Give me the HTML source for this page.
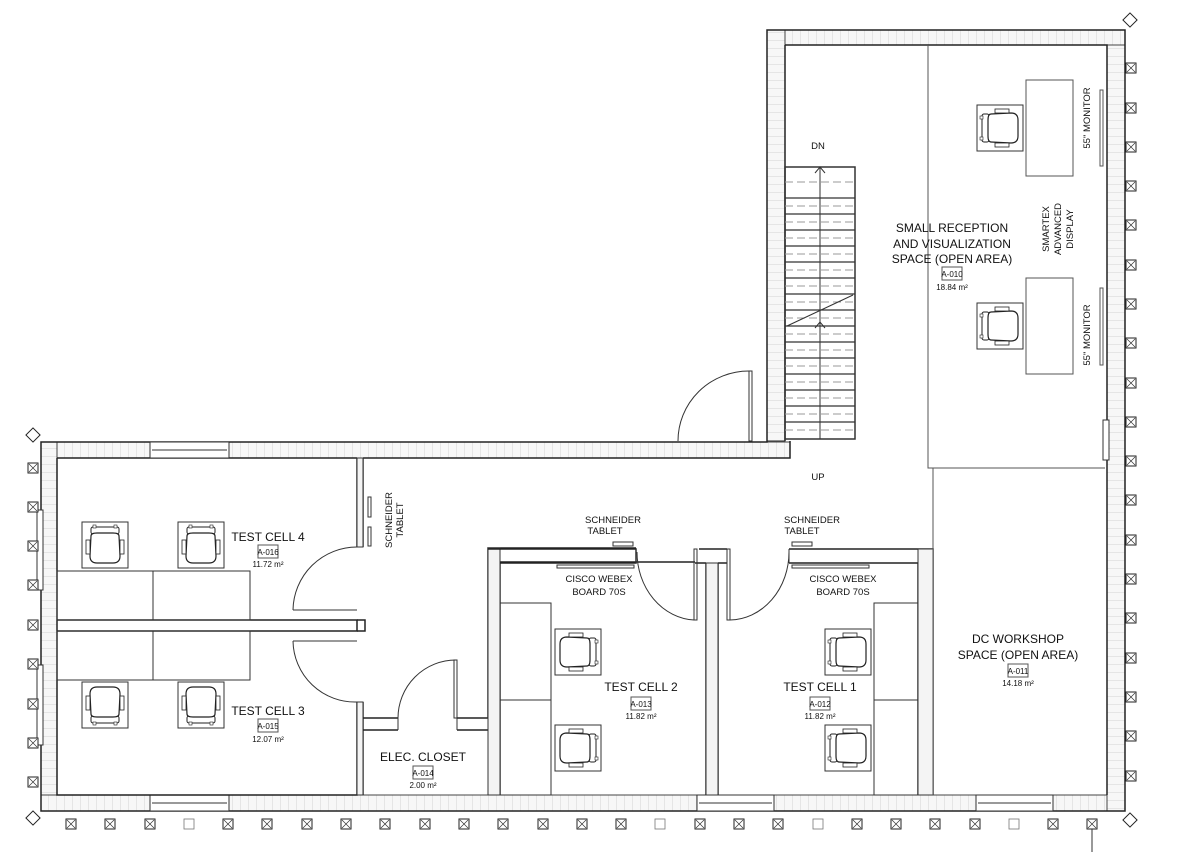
<!DOCTYPE html>
<html><head><meta charset="utf-8"><style>
html,body{margin:0;padding:0;background:#fff;}
svg{display:block;}
text{font-family:"Liberation Sans",Arial,sans-serif;fill:#111;}
</style></head><body>
<svg width="1201" height="852" viewBox="0 0 1201 852" xmlns="http://www.w3.org/2000/svg">
<defs>
<pattern id="hx" width="8" height="8" patternUnits="userSpaceOnUse"><rect width="8" height="8" fill="#f7f7f7"/><path d="M0 0V8" stroke="#c4c4c4" stroke-width="0.7"/></pattern>
<pattern id="hy" width="8" height="8" patternUnits="userSpaceOnUse"><rect width="8" height="8" fill="#f7f7f7"/><path d="M0 0H8" stroke="#c4c4c4" stroke-width="0.7"/></pattern>
<g id="chair">
<rect x="0" y="0" width="46" height="46" fill="none" stroke="#333" stroke-width="1"/>
<rect x="9" y="5" width="28" height="7" rx="2" fill="#fff" stroke="#222" stroke-width="1"/>
<path d="M9 14 Q9 11 15 11 H31 Q37 11 37 14 L38 34 Q38 41 31 41 H15 Q8 41 8 34 Z" fill="#fff" stroke="#222" stroke-width="1.2"/>
<rect x="4" y="18" width="4" height="14" fill="#fff" stroke="#222" stroke-width="0.8"/>
<rect x="38" y="18" width="4" height="14" fill="#fff" stroke="#222" stroke-width="0.8"/>
<rect x="11" y="3" width="3" height="3" fill="#fff" stroke="#222" stroke-width="0.6"/>
<rect x="32" y="3" width="3" height="3" fill="#fff" stroke="#222" stroke-width="0.6"/>
</g>
<g id="tx"><rect x="-5" y="-5" width="10" height="10" fill="#fff" stroke="#222" stroke-width="1"/><path d="M-4 -4L4 4M4 -4L-4 4" stroke="#333" stroke-width="0.7"/></g>
<g id="tb"><rect x="-5" y="-5" width="10" height="10" fill="#fff" stroke="#777" stroke-width="0.8"/></g>
</defs>

<g stroke="#444" stroke-width="1">
<rect x="41" y="442" width="749" height="16" fill="url(#hx)"/>
<rect x="41" y="442" width="16" height="369" fill="url(#hy)"/>
<rect x="41" y="795" width="1084" height="16" fill="url(#hx)"/>
<rect x="1107" y="30" width="18" height="781" fill="url(#hy)"/>
<rect x="767" y="30" width="358" height="15" fill="url(#hx)"/>
<rect x="767" y="30" width="18" height="411" fill="url(#hy)"/>
</g>
<g fill="none" stroke="#222" stroke-width="1.5">
<path d="M41 442H767V30H1125V811H41Z"/>
<path d="M57 458H357M363 458H790V441"/>
<path d="M785 45H1107V795M785 45V441"/>
</g>
<g fill="#fff" stroke="#333" stroke-width="1">
<rect x="150" y="442" width="79" height="16"/><line x1="152" y1="450" x2="227" y2="450"/>
<rect x="150" y="795" width="79" height="16"/><line x1="152" y1="803" x2="227" y2="803"/>
<rect x="697" y="795" width="77" height="16"/><line x1="699" y1="803" x2="772" y2="803"/>
<rect x="976" y="795" width="77" height="16"/><line x1="978" y1="803" x2="1051" y2="803"/>
<rect x="37" y="510" width="6" height="80"/><rect x="37" y="665" width="6" height="80"/>
<rect x="1103" y="420" width="6" height="40"/>
</g>

<g fill="none" stroke="#222" stroke-width="1.5">
<path d="M57 458V795H357V702M357 547V458"/>
<path d="M363 458V547M363 702V795"/>
<path d="M57 620H357V631H57"/>
<path d="M357 620h8v11h-8"/>
</g>
<g fill="none" stroke="#333" stroke-width="1">
<rect x="357" y="458" width="6" height="89" fill="#f4f4f4"/>
<rect x="357" y="702" width="6" height="93" fill="#f4f4f4"/>
<rect x="368" y="497" width="3" height="20"/><rect x="368" y="527" width="3" height="19"/>
<path d="M293 610H357M293 610A64 64 0 0 1 357 547"/>
<path d="M293 641H357M293 641A62 62 0 0 0 357 702"/>
<rect x="57" y="571" width="193" height="49"/><line x1="153" y1="571" x2="153" y2="620"/>
<rect x="57" y="631" width="193" height="49"/><line x1="153" y1="631" x2="153" y2="680"/>
</g>
<use href="#chair" x="82" y="522"/>
<use href="#chair" x="178" y="522"/>
<use href="#chair" transform="translate(128,728) rotate(180)"/>
<use href="#chair" transform="translate(224,728) rotate(180)"/>

<g fill="none" stroke="#222" stroke-width="1.5">
<path d="M363 718H398M457 718H488M363 730H398M457 730H500"/>
<path d="M488 718V548H636"/>
<path d="M500 795V562H695"/>
</g>
<g fill="none" stroke="#333" stroke-width="1">
<path d="M398 718V730M457 718V730"/>
<path d="M454 660V718H457V660Z"/>
<path d="M398 718A58 58 0 0 1 456 660"/>
<rect x="488" y="548" width="12" height="247" fill="#f4f4f4"/>
</g>
<g fill="none" stroke="#222" stroke-width="1.5">
<path d="M488 549H636V563H500"/>
<path d="M706 563V795M718 563V795"/>
<path d="M699 549H727"/>
<path d="M789 549H933V795M789 563H918V795"/>
<path d="M718 563H727M695 563H706"/>
</g>
<g fill="none" stroke="#333" stroke-width="1">
<rect x="706" y="563" width="12" height="232" fill="#f4f4f4"/>
<path d="M694 549V620H697V549Z"/>
<path d="M727 549V620H730V549Z"/>
<path d="M636 549V563M789 549V563"/>
<path d="M637 552A60 68 0 0 0 694 620"/>
<path d="M789 552A60 68 0 0 1 730 620"/>
<rect x="918" y="549" width="15" height="246" fill="#f4f4f4"/>
<rect x="613" y="542" width="20" height="4"/><rect x="792" y="542" width="20" height="4"/>
<rect x="557" y="565" width="77" height="3"/><rect x="792" y="565" width="77" height="3"/>
<rect x="500" y="603" width="51" height="192"/><line x1="500" y1="700" x2="551" y2="700"/>
<rect x="874" y="603" width="44" height="192"/><line x1="874" y1="700" x2="918" y2="700"/>
</g>
<use href="#chair" transform="translate(601,629) rotate(90)"/>
<use href="#chair" transform="translate(601,725) rotate(90)"/>
<use href="#chair" transform="translate(825,675) rotate(-90)"/>
<use href="#chair" transform="translate(825,771) rotate(-90)"/>

<g fill="none" stroke="#333" stroke-width="1">
<path d="M749 371V441H752V371Z"/>
<path d="M678 441A71 70 0 0 1 749 371"/>
</g>

<g fill="none" stroke="#333" stroke-width="1">
<rect x="785" y="167" width="70" height="272" stroke-width="1.5"/>
<path d="M785 198H855M785 214H855M785 230H855M785 246H855M785 262H855M785 278H855M785 294H855M785 310H855M785 326H855M785 342H855M785 358H855M785 374H855M785 390H855M785 406H855M785 422H855" stroke-width="1.2"/>
<path d="M785 182H855M785 206H855M785 222H855M785 238H855M785 254H855M785 270H855M785 286H855M785 302H855M785 318H855M785 334H855M785 350H855M785 366H855M785 382H855M785 398H855M785 414H855M785 430H855" stroke="#999" stroke-dasharray="8,4"/>
<path d="M820 167V439"/>
<path d="M815 173L820 167L825 173M815 328L820 322L825 328"/>
<path d="M787 326L853 295"/>
</g>

<g fill="none" stroke="#555" stroke-width="1">
<path d="M928 45V468H1105"/>
<path d="M933 468V795"/>
<rect x="1026" y="80" width="47" height="96"/>
<rect x="1026" y="278" width="47" height="96"/>
<rect x="1100" y="90" width="3" height="76"/>
<rect x="1100" y="288" width="3" height="77"/>
</g>
<use href="#chair" transform="translate(977,151) rotate(-90)"/>
<use href="#chair" transform="translate(977,349) rotate(-90)"/>

<g>
<use href="#tx" x="33" y="468"/><use href="#tx" x="33" y="507"/><use href="#tx" x="33" y="546"/><use href="#tx" x="33" y="585"/><use href="#tx" x="33" y="625"/><use href="#tx" x="33" y="664"/><use href="#tx" x="33" y="704"/><use href="#tx" x="33" y="743"/><use href="#tx" x="33" y="782"/>
<use href="#tx" x="71" y="824"/><use href="#tx" x="110" y="824"/><use href="#tx" x="150" y="824"/><use href="#tb" x="189" y="824"/><use href="#tx" x="228" y="824"/><use href="#tx" x="267" y="824"/><use href="#tx" x="307" y="824"/><use href="#tx" x="346" y="824"/><use href="#tx" x="385" y="824"/><use href="#tx" x="425" y="824"/><use href="#tx" x="464" y="824"/><use href="#tx" x="503" y="824"/><use href="#tx" x="543" y="824"/><use href="#tx" x="582" y="824"/><use href="#tx" x="621" y="824"/><use href="#tb" x="660" y="824"/><use href="#tx" x="700" y="824"/><use href="#tx" x="739" y="824"/><use href="#tx" x="778" y="824"/><use href="#tb" x="818" y="824"/><use href="#tx" x="857" y="824"/><use href="#tx" x="896" y="824"/><use href="#tx" x="935" y="824"/><use href="#tx" x="975" y="824"/><use href="#tb" x="1014" y="824"/><use href="#tx" x="1053" y="824"/><use href="#tx" x="1092" y="824"/>
<use href="#tx" x="1131" y="68"/><use href="#tx" x="1131" y="108"/><use href="#tx" x="1131" y="147"/><use href="#tx" x="1131" y="186"/><use href="#tx" x="1131" y="225"/><use href="#tx" x="1131" y="265"/><use href="#tx" x="1131" y="304"/><use href="#tx" x="1131" y="343"/><use href="#tx" x="1131" y="383"/><use href="#tx" x="1131" y="422"/><use href="#tx" x="1131" y="461"/><use href="#tx" x="1131" y="500"/><use href="#tx" x="1131" y="540"/><use href="#tx" x="1131" y="579"/><use href="#tx" x="1131" y="618"/><use href="#tx" x="1131" y="658"/><use href="#tx" x="1131" y="697"/><use href="#tx" x="1131" y="736"/><use href="#tx" x="1131" y="776"/>
<rect x="28" y="430" width="10" height="10" transform="rotate(45 33 435)" fill="#fff" stroke="#222"/>
<rect x="28" y="813" width="10" height="10" transform="rotate(45 33 818)" fill="#fff" stroke="#222"/>
<rect x="1125" y="15" width="10" height="10" transform="rotate(45 1130 20)" fill="#fff" stroke="#222"/>
<rect x="1125" y="815" width="10" height="10" transform="rotate(45 1130 820)" fill="#fff" stroke="#222"/>
<line x1="1092" y1="829" x2="1092" y2="852" stroke="#333"/>
</g>

<g font-size="12" text-anchor="middle">
<text x="268" y="541">TEST CELL 4</text>
<text x="268" y="715">TEST CELL 3</text>
<text x="641" y="691">TEST CELL 2</text>
<text x="820" y="691">TEST CELL 1</text>
<text x="423" y="761">ELEC. CLOSET</text>
<text x="952" y="232">SMALL RECEPTION</text>
<text x="952" y="248">AND VISUALIZATION</text>
<text x="952" y="263">SPACE (OPEN AREA)</text>
<text x="1018" y="643">DC WORKSHOP</text>
<text x="1018" y="659">SPACE (OPEN AREA)</text>
</g>
<g font-size="9.5" text-anchor="middle">
<text x="818" y="149">DN</text>
<text x="818" y="480">UP</text>
<text x="613" y="523">SCHNEIDER</text><text x="605" y="534">TABLET</text>
<text x="812" y="523">SCHNEIDER</text><text x="802" y="534">TABLET</text>
<text x="599" y="582">CISCO WEBEX</text><text x="599" y="595">BOARD 70S</text>
<text x="843" y="582">CISCO WEBEX</text><text x="843" y="595">BOARD 70S</text>
<text transform="translate(392,520) rotate(-90)">SCHNEIDER</text>
<text transform="translate(403,520) rotate(-90)">TABLET</text>
<text transform="translate(1090,118) rotate(-90)">55" MONITOR</text>
<text transform="translate(1090,335) rotate(-90)">55" MONITOR</text>
<text transform="translate(1049,229) rotate(-90)">SMARTEX</text>
<text transform="translate(1061,229) rotate(-90)">ADVANCED</text>
<text transform="translate(1073,229) rotate(-90)">DISPLAY</text>
</g>
<g font-size="8" text-anchor="middle" fill="#444">
<rect x="258" y="545" width="20" height="13" fill="none" stroke="#555"/><text x="268" y="555">A-016</text><text x="268" y="567">11.72 m²</text>
<rect x="258" y="719" width="20" height="13" fill="none" stroke="#555"/><text x="268" y="729">A-015</text><text x="268" y="742">12.07 m²</text>
<rect x="631" y="697" width="20" height="13" fill="none" stroke="#555"/><text x="641" y="707">A-013</text><text x="641" y="719">11.82 m²</text>
<rect x="810" y="697" width="20" height="13" fill="none" stroke="#555"/><text x="820" y="707">A-012</text><text x="820" y="719">11.82 m²</text>
<rect x="413" y="766" width="20" height="13" fill="none" stroke="#555"/><text x="423" y="776">A-014</text><text x="423" y="788">2.00 m²</text>
<rect x="942" y="267" width="20" height="13" fill="none" stroke="#555"/><text x="952" y="277">A-010</text><text x="952" y="290">18.84 m²</text>
<rect x="1008" y="664" width="20" height="13" fill="none" stroke="#555"/><text x="1018" y="674">A-011</text><text x="1018" y="686">14.18 m²</text>
</g>
</svg>
</body></html>
